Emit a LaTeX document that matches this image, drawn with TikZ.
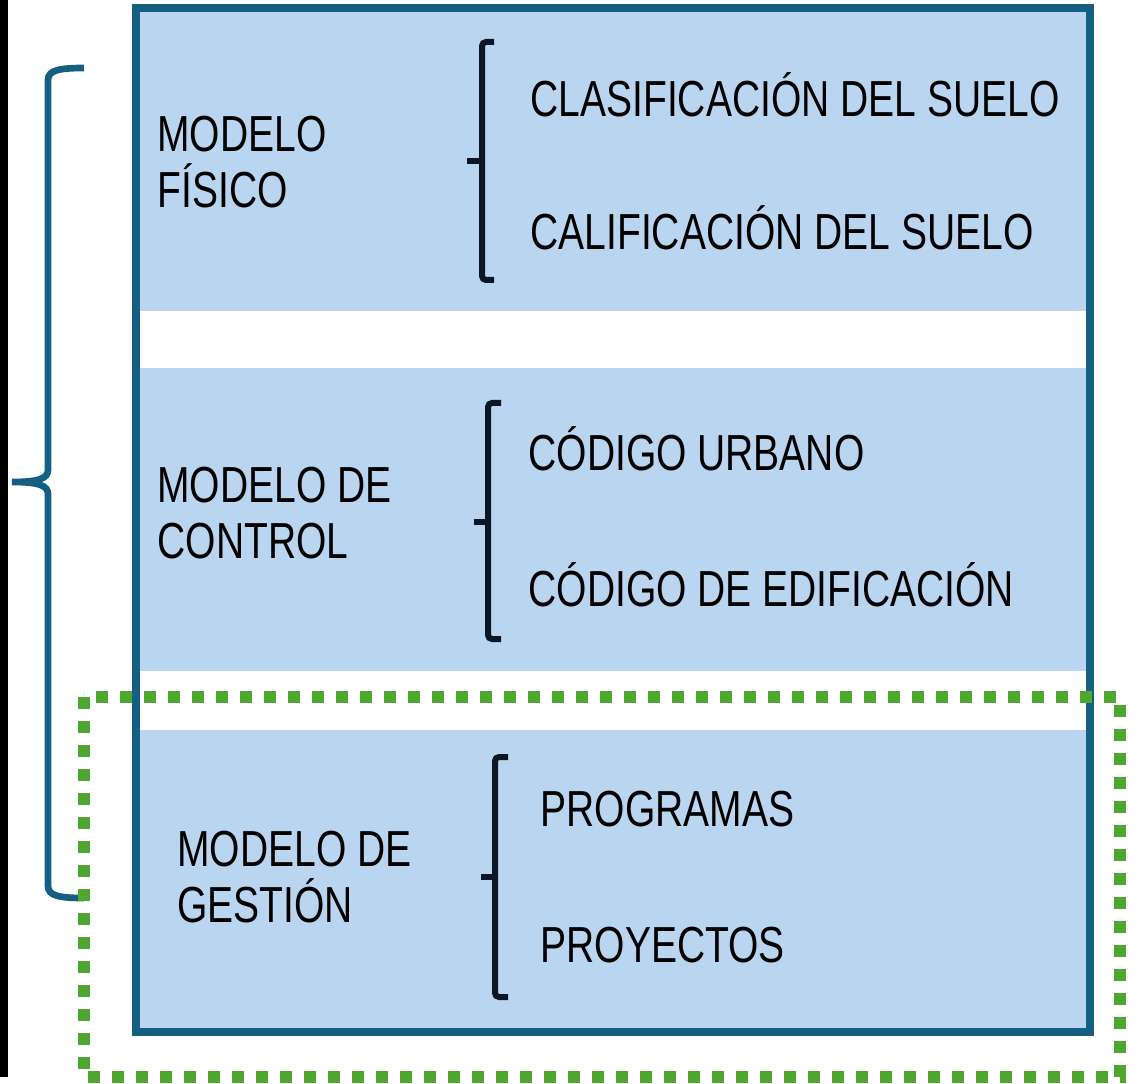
\documentclass[tikz,border=0pt]{standalone}
\usepackage{fontspec}
\setmainfont{Liberation Sans}
\newfontfamily\narrowsans[FakeStretch=0.77]{Liberation Sans}
\definecolor{frameblue}{RGB}{21,96,130}
\definecolor{bandblue}{RGB}{185,213,240}
\definecolor{dotgreen}{RGB}{78,167,46}
\definecolor{bracketink}{RGB}{12,22,36}
\tikzset{every picture/.style={line width=0.75pt}}
\tikzset{
	label text/.style={anchor=base west, inner sep=0pt, align=left, font=\narrowsans\fontsize{38}{42}\selectfont},
	band/.style={fill=bandblue, draw=none},
	bracket/.style={draw=bracketink, line width=4.5pt, rounded corners=3pt}}
\begin{document}
\begin{tikzpicture}[x=0.75pt,y=0.75pt,yscale=-1,xscale=1]
	\useasboundingbox (0,0) rectangle (1140,1084);

	%Shape: Rectangle [left edge]
	\fill [black] (0,0) rectangle (8,1077) ;
	%Shape: Rectangle [band 1]
	\path [band] (140,12) rectangle (1086,311) ;
	%Shape: Rectangle [band 2]
	\path [band] (140,368) rectangle (1086,671) ;
	%Shape: Rectangle [band 3]
	\path [band] (140,730) rectangle (1086,1028) ;
	%Shape: Rectangle [frame]
	\draw [frameblue, line width=6pt] (136,8) rectangle (1090,1032) ;

	%Shape: Brace
	\draw [frameblue, line width=5pt] (84,68) .. controls (60,68) and (48,70) .. (48,80) -- (48,470) .. controls (48,478) and (40,482) .. (12,482) .. controls (40,482) and (48,486) .. (48,494) -- (48,886) .. controls (48,896) and (60,898) .. (84,898) ;

	%Shape: Bracket
	\draw [bracket] (494,42) -- (482,42) -- (482,280) -- (494,280) ;
	\draw [bracket] (467,161) -- (482,161) ;
	%Shape: Bracket
	\draw [bracket] (501,403) -- (488,403) -- (488,639) -- (501,639) ;
	\draw [bracket] (474,522) -- (488,522) ;
	%Shape: Bracket
	\draw [bracket] (508,757) -- (495,757) -- (495,997) -- (508,997) ;
	\draw [bracket] (481,877) -- (495,877) ;

	% Text Node
	\node [label text] (fisico) at (157,208) {MODELO\\FÍSICO};
	% Text Node
	\node [label text] (clasif) at (530,117) {CLASIFICACIÓN DEL SUELO};
	% Text Node
	\node [label text] (calif) at (530,250) {CALIFICACIÓN DEL SUELO};
	% Text Node
	\node [label text] (control) at (157,558) {MODELO DE\\CONTROL};
	% Text Node
	\node [label text] (urbano) at (528,471) {CÓDIGO URBANO};
	% Text Node
	\node [label text] (edif) at (528,606) {CÓDIGO DE EDIFICACIÓN};
	% Text Node
	\node [label text] (gestion) at (177,922) {MODELO DE\\GESTIÓN};
	% Text Node
	\node [label text] (programas) at (540,826) {PROGRAMAS};
	% Text Node
	\node [label text] (proyectos) at (540,962) {PROYECTOS};

	%Shape: Rectangle [dotted outline]
	\draw [dotgreen, line width=9pt, dash pattern=on 9pt off 9pt] (84,697) rectangle (1120,1077) ;

\end{tikzpicture}
\end{document}
